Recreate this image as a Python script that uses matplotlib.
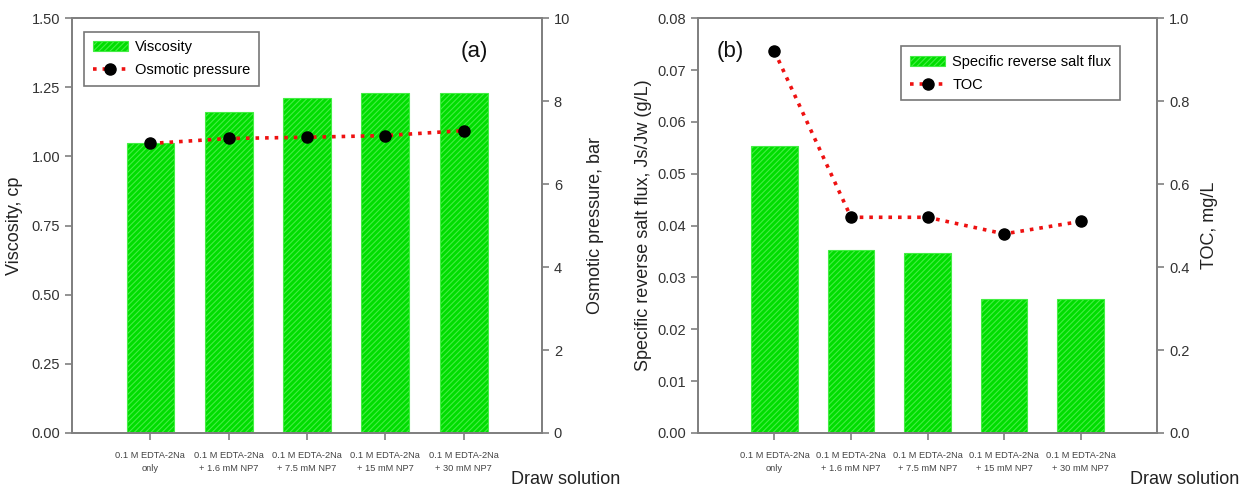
import matplotlib
matplotlib.use('Agg')
import matplotlib.pyplot as plt
import numpy as np

plt.rcParams['font.family'] = ['Liberation Sans', 'DejaVu Sans']
plt.rcParams['hatch.color'] = '#009a00'
plt.rcParams['hatch.linewidth'] = 0.8

categories = ['0.1 M EDTA-2Na\nonly', '0.1 M EDTA-2Na\n+ 1.6 mM NP7', '0.1 M EDTA-2Na\n+ 7.5 mM NP7',
              '0.1 M EDTA-2Na\n+ 15 mM NP7', '0.1 M EDTA-2Na\n+ 30 mM NP7']
viscosity = [1.05, 1.16, 1.21, 1.23, 1.23]
osmotic = [6.98, 7.10, 7.13, 7.17, 7.29]
salt_flux = [0.0553, 0.0353, 0.0347, 0.0259, 0.0259]
toc = [0.92, 0.52, 0.52, 0.48, 0.51]

spine_col = '#808080'
bar_col = '#00dd00'
x = np.arange(len(categories))

fig = plt.figure(figsize=(12.43, 4.92), dpi=100)


def style_axes(ax, ax2):
    for a in (ax, ax2):
        for s in a.spines.values():
            s.set_color(spine_col)
            s.set_linewidth(1.3)
        a.tick_params(colors=spine_col, labelcolor='#333333', labelsize=10.5, length=5, width=1.2)
    ax.set_xlim(-1, 5)
    ax.set_xticks(x)
    ax.set_xticklabels(categories, fontsize=6.7, color='#444444', linespacing=1.6)
    ax.tick_params(axis='x', pad=8)


def panel(rect, bars, line, ylim, yticks, yfmt, ylim2, yticks2, yfmt2,
          ylab, ylab2, pads, bar_lab, line_lab, tag, tag_xy, leg_loc, leg_anchor, draw_x):
    ax = fig.add_axes(rect)
    ax2 = ax.twinx()
    ax.bar(x, bars, width=0.61, color=bar_col, edgecolor='#44ee44', linewidth=0.8,
           hatch='//////', label=bar_lab, zorder=2)
    ax2.plot(x, line, ':', color='#ee1111', linewidth=2.6, marker='o', markersize=8,
             markerfacecolor='black', markeredgecolor='black', label=line_lab)
    ax.set_ylim(*ylim)
    ax.set_yticks(yticks)
    ax.set_yticklabels([yfmt.format(v) for v in yticks])
    ax2.set_ylim(*ylim2)
    ax2.set_yticks(yticks2)
    ax2.set_yticklabels([yfmt2.format(v) for v in yticks2])
    style_axes(ax, ax2)
    ax.set_ylabel(ylab, fontsize=13, color='#222222', labelpad=pads[0])
    ax2.set_ylabel(ylab2, fontsize=13, color='#222222', labelpad=pads[1])
    h1, l1 = ax.get_legend_handles_labels()
    h2, l2 = ax2.get_legend_handles_labels()
    leg = ax2.legend(h1 + h2, l1 + l2, loc=leg_loc, bbox_to_anchor=leg_anchor, fontsize=10.5,
                     fancybox=False, edgecolor='#555555', handlelength=2.4, borderpad=0.6,
                     labelspacing=0.6, handletextpad=0.5)
    leg.get_frame().set_linewidth(1.2)
    ax.text(tag_xy[0], tag_xy[1], tag, transform=ax.transAxes, fontsize=16,
            ha='center', va='center', color='#111111')
    fig.text(draw_x, 0.008, 'Draw solution', fontsize=13, color='#222222',
             ha='right', va='bottom')
    return ax, ax2


panel([0.058, 0.120, 0.378, 0.843], viscosity, osmotic,
      (0, 1.5), [0, 0.25, 0.5, 0.75, 1.0, 1.25, 1.5], '{:.2f}',
      (0, 10), [0, 2, 4, 6, 8, 10], '{:d}',
      'Viscosity, cp', 'Osmotic pressure, bar', (6, 12), 'Viscosity', 'Osmotic pressure',
      '(a)', (0.855, 0.92), 'upper left', (0.01, 0.985), 0.499)

panel([0.5615, 0.120, 0.3695, 0.843], salt_flux, toc,
      (0, 0.08), [0, 0.01, 0.02, 0.03, 0.04, 0.05, 0.06, 0.07, 0.08], '{:.2f}',
      (0, 1.0), [0, 0.2, 0.4, 0.6, 0.8, 1.0], '{:.1f}',
      'Specific reverse salt flux, Js/Jw (g/L)', 'TOC, mg/L', (4, 8),
      'Specific reverse salt flux', 'TOC',
      '(b)', (0.07, 0.92), 'upper right', (0.935, 0.95), 0.997)

fig.savefig('out.png', dpi=100)
